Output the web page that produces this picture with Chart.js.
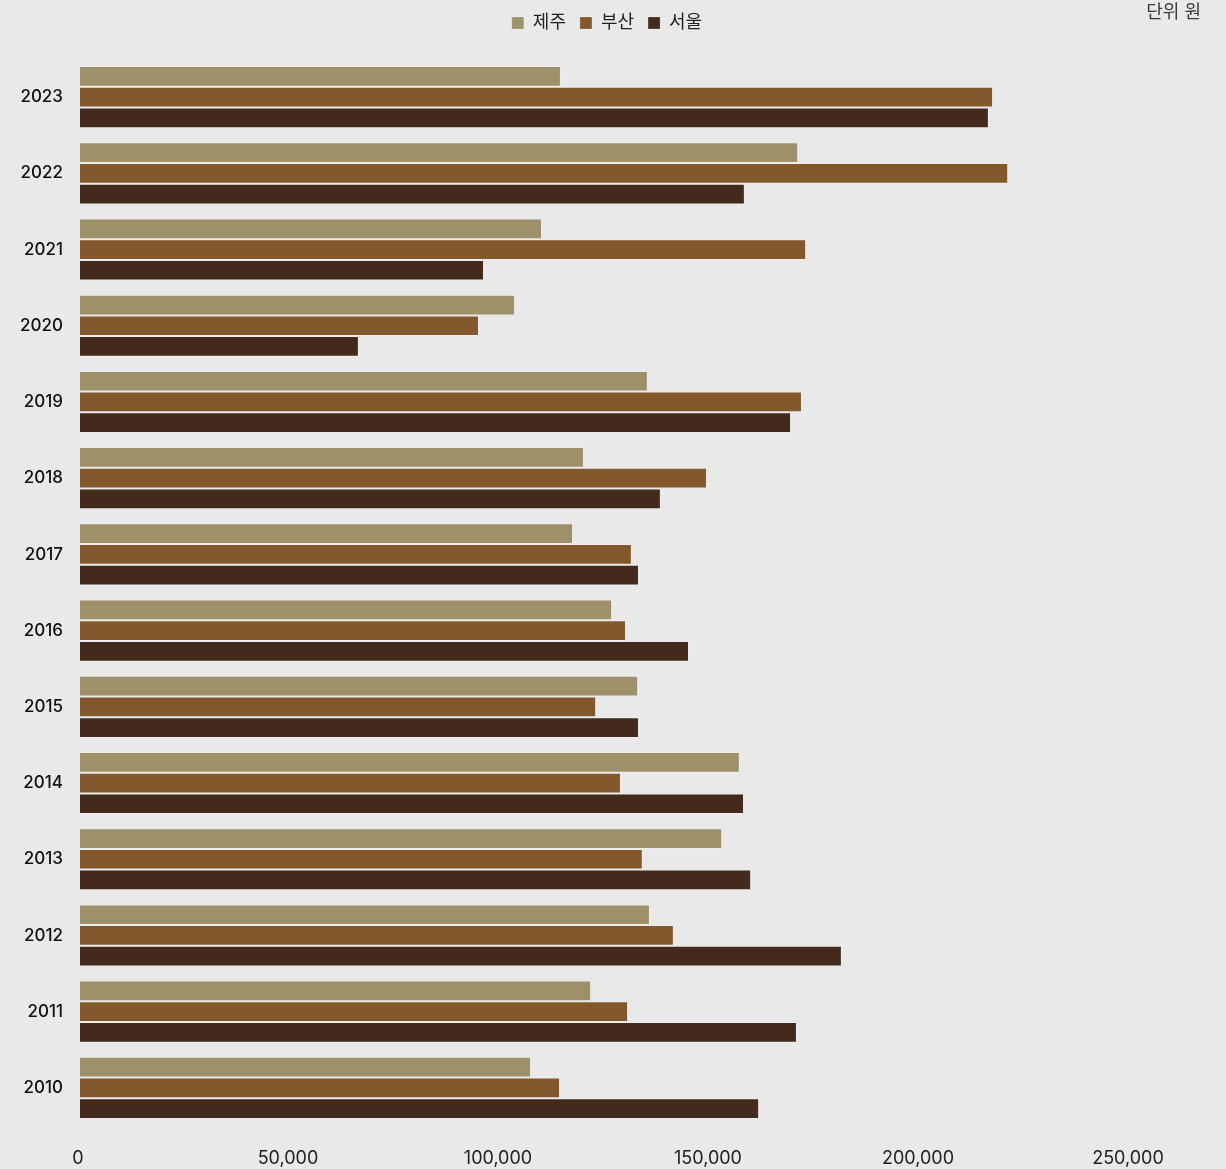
<!DOCTYPE html>
<html lang="ko">
<head>
<meta charset="utf-8">
<title>지역별 비교</title>
<script src="https://cdn.jsdelivr.net/npm/chart.js@4/dist/chart.umd.min.js"></script>
<style>
  html, body { margin: 0; padding: 0; background: #e9e9e9; }
  #wrap { position: relative; width: 1226px; height: 1169px; }
</style>
</head>
<body>
<div id="wrap"><canvas id="c" width="1226" height="1169"></canvas></div>
<script>
// 연도 (위에서 아래로)
const years = ['2023','2022','2021','2020','2019','2018','2017','2016','2015','2014','2013','2012','2011','2010'];
// 지역별 값 (원)
const jeju  = [114500,171000,110000,103600,135200,120000,117400,126700,132900,157100,152900,135700,121700,107400];
const busan = [217400,221000,172900, 95000,171900,149300,131400,130000,122900,128800,134000,141400,130500,114300];
const seoul = [216400,158300, 96200, 66400,169300,138300,133100,145000,133100,158100,159800,181400,170700,161700];
const seriesNames = ['제주','부산','서울'];
const xTicks = [0, 50000, 100000, 150000, 200000, 250000];
const unitLabel = '단위 원';

const colors = ['#9e9068', '#83582d', '#432a1d'];
const FONT = "Inter, 'Noto Sans CJK KR', sans-serif";

// 단위 표기 (오른쪽 위)
const unitPlugin = {
  id: 'unitText',
  afterDraw(chart) {
    const ctx = chart.ctx;
    ctx.save();
    ctx.font = "18px " + FONT;
    ctx.fillStyle = '#3a3a3a';
    ctx.textAlign = 'right';
    ctx.textBaseline = 'middle';
    ctx.fillText(unitLabel, 1201, 13);
    ctx.restore();
  }
};

// 범례 아래 여백 추가
const legendGap = {
  id: 'legendGap',
  beforeInit(chart) {
    const fit = chart.legend.fit;
    chart.legend.fit = function () {
      fit.call(this);
      this.height += 17;
    };
  }
};

new Chart(document.getElementById('c'), {
  type: 'bar',
  data: {
    labels: years,
    datasets: [jeju, busan, seoul].map((d, i) => ({
      label: seriesNames[i],
      data: d,
      backgroundColor: colors[i],
      borderColor: 'rgba(255,255,255,0.22)',
      borderWidth: 1,
      borderSkipped: 'start',
      categoryPercentage: 0.815,
      barPercentage: 1.0
    }))
  },
  options: {
    indexAxis: 'y',
    responsive: false,
    animation: false,
    layout: { padding: { top: 0, right: 12, left: 0, bottom: 0 } },
    plugins: {
      legend: {
        position: 'top',
        labels: {
          boxWidth: 12, boxHeight: 12, padding: 14,
          color: '#222', font: { family: FONT, size: 18 }
        }
      },
      tooltip: { enabled: false }
    },
    scales: {
      x: {
        min: 0, max: 270000,
        grid: { display: false },
        border: { display: false },
        afterBuildTicks(scale) { scale.ticks = xTicks.map(v => ({ value: v })); },
        afterFit(scale) { scale.height = 43; },
        ticks: {
          padding: 14,
          labelOffset: -2,
          color: '#222',
          font: { family: FONT, size: 18 },
          callback: v => v.toLocaleString('en-US')
        }
      },
      y: {
        grid: { display: false },
        border: { display: false },
        afterFit(scale) { scale.width = 80; },
        ticks: {
          padding: 9,
          color: '#111',
          font: { family: FONT, size: 17, weight: 500 }
        }
      }
    }
  },
  plugins: [unitPlugin, legendGap]
});
</script>
</body>
</html>
